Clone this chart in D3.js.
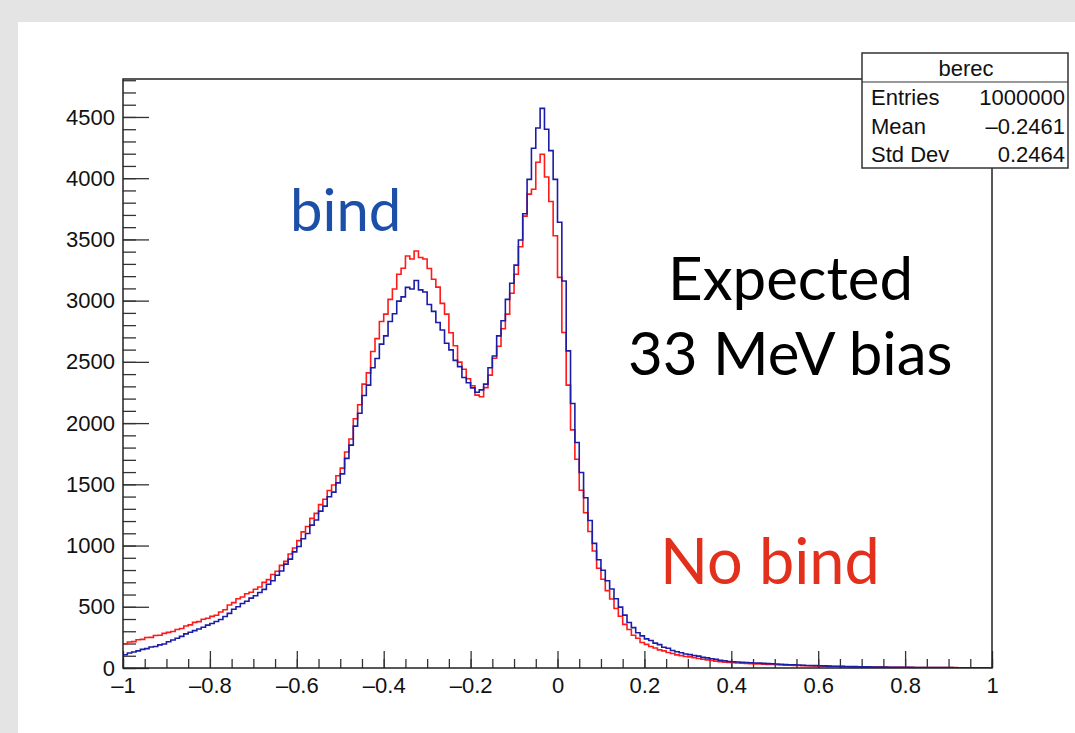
<!DOCTYPE html>
<html>
<head>
<meta charset="utf-8">
<script src="https://cdn.jsdelivr.net/npm/d3@7"></script>
<style>
  body { margin: 0; background: #e4e4e4; }
  svg { display: block; }
</style>
</head>
<body>
<svg id="chart" width="1075" height="733"></svg>
<script>
// bin counts, bins of 0.01 from -1 to 1
const bindCounts = [
  108, 122, 131, 140, 152, 158, 171, 176, 189, 196,
  214, 229, 243, 258, 279, 292, 305, 318, 333, 350,
  364, 380, 396, 421, 446, 480, 500, 527, 545, 571,
  590, 617, 642, 684, 712, 757, 792, 848, 889, 948,
  992, 1056, 1098, 1167, 1209, 1281, 1322, 1398, 1436, 1512,
  1585, 1712, 1820, 1975, 2080, 2225, 2310, 2452, 2528, 2645,
  2712, 2830, 2893, 2996, 3031, 3108, 3095, 3165, 3088, 3070,
  2968, 2912, 2822, 2760, 2652, 2598, 2512, 2461, 2372, 2330,
  2288, 2252, 2271, 2318, 2452, 2548, 2712, 2836, 3010, 3142,
  3290, 3495, 3710, 3990, 4245, 4410, 4570, 4400, 4225, 3990,
  3640, 3160, 2590, 2160, 1842, 1596, 1390, 1205, 1018, 884,
  798, 712, 645, 566, 497, 432, 372, 330, 288, 262,
  238, 224, 203, 191, 170, 161, 143, 133, 125, 114,
  109, 102, 97, 87, 83, 75, 71, 62, 59, 53,
  51, 49, 47, 45, 43, 41, 40, 38, 36, 35,
  33, 31, 29, 27, 26, 24, 23, 21, 20, 19,
  18, 17, 15, 14, 14, 13, 12, 11, 11, 10,
  9, 9, 8, 8, 7, 7, 6, 6, 6, 5,
  5, 5, 4, 4, 4, 4, 3, 3, 3, 3,
  3, 2, 2, 2, 2, 2, 2, 1, 1, 1
];
const noBindCounts = [
  198, 212, 215, 231, 234, 249, 250, 266, 268, 283,
  291, 298, 315, 322, 343, 352, 373, 379, 398, 406,
  422, 431, 457, 476, 515, 534, 566, 580, 606, 618,
  643, 661, 699, 722, 764, 790, 838, 871, 931, 980,
  1040, 1112, 1155, 1222, 1263, 1334, 1378, 1449, 1495, 1570,
  1632, 1764, 1870, 2035, 2150, 2318, 2410, 2585, 2690, 2830,
  2890, 3010, 3095, 3215, 3265, 3365, 3340, 3405, 3352, 3340,
  3262, 3175, 3110, 2978, 2890, 2738, 2632, 2498, 2440, 2362,
  2305, 2228, 2215, 2290, 2392, 2530, 2628, 2770, 2890, 3060,
  3215, 3440, 3690, 3870, 3910, 4130, 4195, 4010, 3810, 3530,
  3190, 2740, 2310, 1945, 1705, 1452, 1268, 1115, 955, 815,
  725, 632, 563, 486, 423, 356, 314, 268, 243, 208,
  193, 176, 163, 148, 140, 126, 119, 107, 101, 94,
  91, 85, 78, 72, 66, 61, 56, 52, 48, 45,
  43, 41, 39, 37, 36, 34, 33, 31, 30, 28,
  26, 25, 23, 22, 21, 20, 19, 18, 17, 16,
  15, 14, 13, 12, 12, 11, 10, 10, 9, 9,
  8, 8, 7, 7, 7, 6, 6, 6, 5, 5,
  5, 4, 4, 4, 4, 3, 3, 3, 3, 3,
  3, 3, 2, 2, 2, 2, 2, 2, 2, 2
];

const xTicks = [-1, -0.8, -0.6, -0.4, -0.2, 0, 0.2, 0.4, 0.6, 0.8, 1];
const xTickLabels = ["\u20131", "\u20130.8", "\u20130.6", "\u20130.4", "\u20130.2", "0", "0.2", "0.4", "0.6", "0.8", "1"];
const yTicks = [0, 500, 1000, 1500, 2000, 2500, 3000, 3500, 4000, 4500];
const yTickLabels = ["0", "500", "1000", "1500", "2000", "2500", "3000", "3500", "4000", "4500"];

const statsTitle = "berec";
const statsNames = ["Entries", "Mean", "Std Dev"];
const statsValues = ["1000000", "\u20130.2461", "0.2464"];

const frameLeft = 123, frameRight = 992, frameTop = 79, frameBottom = 668;

const svg = d3.select("#chart");

// slide panel
svg.append("rect")
  .attr("x", 18).attr("y", 22)
  .attr("width", 1075 - 18).attr("height", 733 - 22)
  .attr("fill", "#fff");

const x = d3.scaleLinear().domain([-1, 1]).range([frameLeft, frameRight]);
const y = d3.scaleLinear().domain([0, 4810]).range([frameBottom, frameTop]);

const binEdges = d3.range(bindCounts.length + 1).map((i) => -1 + i * 0.01);

// minor ticks
svg.append("g")
  .attr("transform", `translate(0,${frameBottom})`)
  .call(d3.axisBottom(x).tickValues(d3.range(41).map((i) => -1 + i * 0.05)).tickSize(-9).tickFormat(""))
  .call((g) => g.select(".domain").remove());
svg.append("g")
  .attr("transform", `translate(${frameLeft},0)`)
  .call(d3.axisLeft(y).tickValues(d3.range(49).map((i) => i * 100)).tickSize(-13).tickFormat(""))
  .call((g) => g.select(".domain").remove());

// major ticks + labels
const xAxis = svg.append("g")
  .attr("transform", `translate(0,${frameBottom})`)
  .call(d3.axisBottom(x).tickValues(xTicks).tickSize(-17).tickPadding(9)
    .tickFormat((d, i) => xTickLabels[i]));
const yAxis = svg.append("g")
  .attr("transform", `translate(${frameLeft},0)`)
  .call(d3.axisLeft(y).tickValues(yTicks).tickSize(-26).tickPadding(8)
    .tickFormat((d, i) => yTickLabels[i]));

[xAxis, yAxis].forEach((g) => {
  g.select(".domain").remove();
  g.selectAll("text")
    .attr("font-family", "Liberation Sans, Arial, sans-serif")
    .attr("font-size", 22)
    .attr("fill", "#111");
});
svg.selectAll(".tick line").attr("stroke", "#333").attr("stroke-width", 1.3);

// histograms
svg.append("clipPath").attr("id", "frame-clip")
  .append("rect")
  .attr("x", frameLeft).attr("y", frameTop)
  .attr("width", frameRight - frameLeft).attr("height", frameBottom - frameTop);

const histLine = d3.line()
  .x((d) => x(d[0]))
  .y((d) => y(d[1]))
  .curve(d3.curveStepAfter);

const toSteps = (counts) =>
  counts.map((c, i) => [binEdges[i], c]).concat([[binEdges[counts.length], counts[counts.length - 1]]]);

svg.append("path")
  .attr("d", histLine(toSteps(noBindCounts)))
  .attr("fill", "none")
  .attr("stroke", "#ff1a1a")
  .attr("stroke-width", 1.6)
  .attr("clip-path", "url(#frame-clip)");

svg.append("path")
  .attr("d", histLine(toSteps(bindCounts)))
  .attr("fill", "none")
  .attr("stroke", "#1c1ca6")
  .attr("stroke-width", 1.6)
  .attr("clip-path", "url(#frame-clip)");

// frame
svg.append("rect")
  .attr("x", frameLeft).attr("y", frameTop)
  .attr("width", frameRight - frameLeft).attr("height", frameBottom - frameTop)
  .attr("fill", "none")
  .attr("stroke", "#222")
  .attr("stroke-width", 1.5);

// stats box
const box = svg.append("g").attr("font-family", "Liberation Sans, Arial, sans-serif").attr("font-size", 22).attr("fill", "#111");
box.append("rect")
  .attr("x", 862).attr("y", 53).attr("width", 206).attr("height", 115)
  .attr("fill", "#fff").attr("stroke", "#333").attr("stroke-width", 1.5);
box.append("line")
  .attr("x1", 862).attr("x2", 1068).attr("y1", 82).attr("y2", 82)
  .attr("stroke", "#333").attr("stroke-width", 1.2);
box.append("text").attr("x", 966).attr("y", 76).attr("text-anchor", "middle").text(statsTitle);
box.selectAll(".sname").data(statsNames).enter().append("text")
  .attr("class", "sname")
  .attr("x", 871)
  .attr("y", (d, i) => 105 + i * 28.5)
  .text((d) => d);
box.selectAll(".sval").data(statsValues).enter().append("text")
  .attr("class", "sval")
  .attr("x", 1065)
  .attr("y", (d, i) => 105 + i * 28.5)
  .attr("text-anchor", "end")
  .text((d) => d);

// slide annotations
const notes = [
  { text: "bind", x: 290, y: 231, size: 58, color: "#1c4fa8" },
  { text: "Expected", x: 668, y: 300, size: 60, color: "#000" },
  { text: "33 MeV bias", x: 628, y: 375, size: 60, color: "#000" },
  { text: "No bind", x: 660, y: 584, size: 63, color: "#e2301c" }
];
svg.selectAll(".note").data(notes).enter().append("text")
  .attr("class", "note")
  .attr("x", (d) => d.x)
  .attr("y", (d) => d.y)
  .attr("font-family", "Lato, 'Noto Sans', sans-serif")
  .attr("font-size", (d) => d.size)
  .attr("fill", (d) => d.color)
  .text((d) => d.text);
</script>
</body>
</html>
